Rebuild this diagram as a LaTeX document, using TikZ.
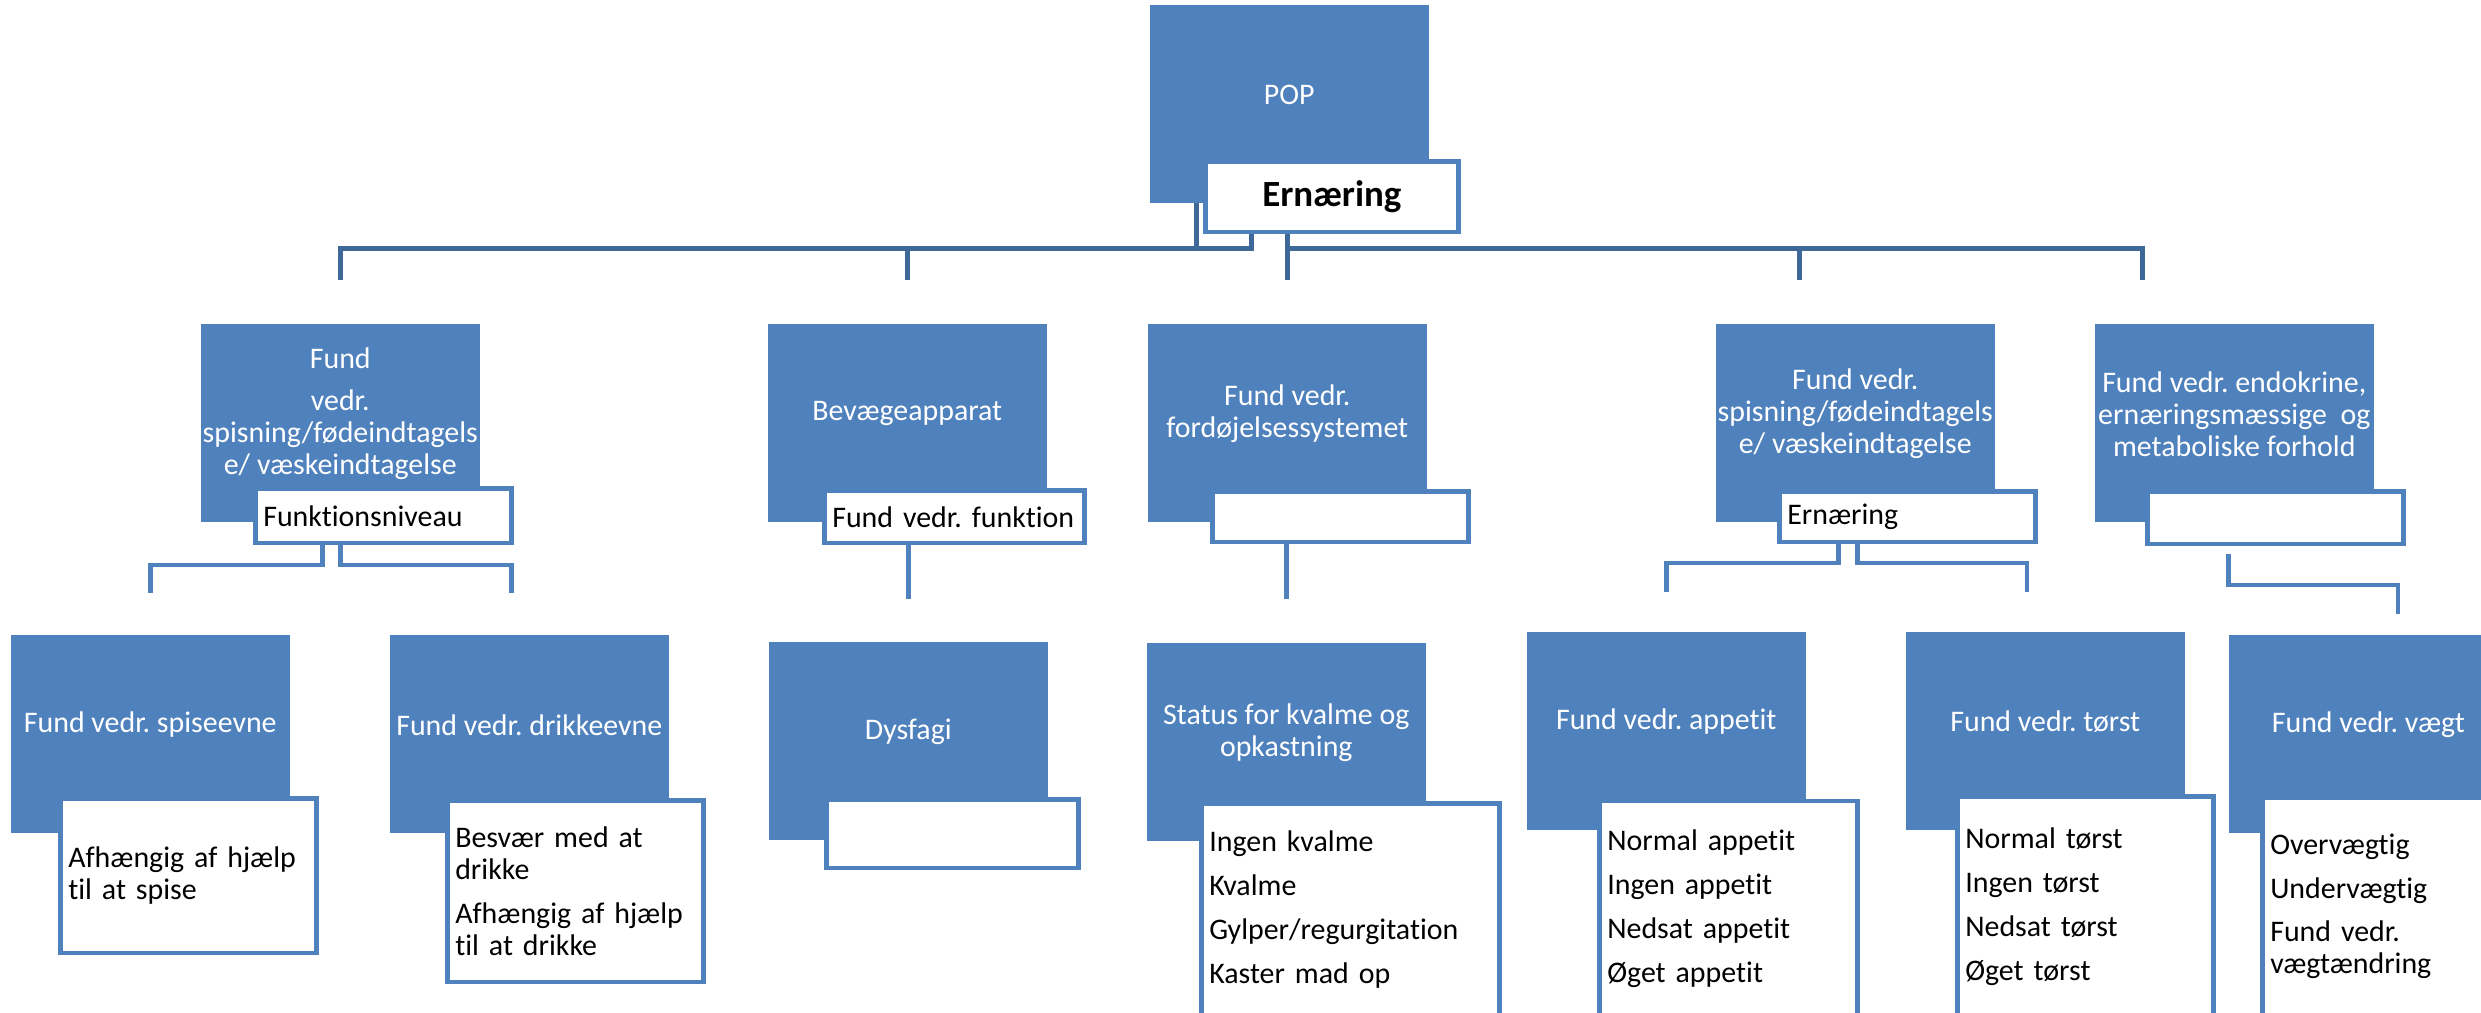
\documentclass[tikz,border=0pt]{standalone}
\usepackage{fontspec}
\setmainfont{Carlito}[Ligatures={NoCommon}]
\frenchspacing
\usetikzlibrary{positioning}
\definecolor{boxblue}{HTML}{4F81BD}
\definecolor{linkblue}{HTML}{3D6897}
\tikzset{
  block/.style={
    fill=boxblue,
    draw=boxblue,
    rectangle,
    anchor=north west,
    minimum height=1.96cm,
    minimum width=2.77cm,
    inner sep=0pt
  },
  blocktext/.style={
    text=white,
    align=center,
    yshift=0.09cm,
    font=\fontsize{8.5}{9.1}\selectfont
  },
  subblock/.style={
    fill=white,
    draw=boxblue,
    line width=0.045cm,
    rectangle,
    anchor=north west,
    inner xsep=0.08cm,
    inner ysep=0pt,
    text width=2.40cm,
    align=left,
    font=\fontsize{8.5}{9.1}\selectfont
  },
  line/.style={draw=linkblue,line width=0.05cm},
  subline/.style={draw=boxblue,line width=0.045cm}
}

\begin{document}
\begin{tikzpicture}[x=0.01cm,y=-0.01cm]

					\useasboundingbox (0,0) rectangle (2481,1013);

					% top
					\node[block, label={[blocktext]center:POP}] (pop) at (1150,5) {};
					\node[subblock, text width=2.37cm, minimum height=0.70cm, align=center,
						font=\fontsize{10.5}{12}\selectfont\bfseries] (pop_sub)
						at ([xshift=0.53cm, yshift=0.43cm]pop.south west) {Ernæring};

					% second row
					\node[block, label={[blocktext]center:{Fund\\[2.8pt]vedr.\\spisning/fødeindtagels\\e/ væskeindtagelse}}] (spisning) at (201,324) {};
					\node[subblock, minimum height=0.54cm] (spisning_sub) at ([xshift=0.52cm, yshift=0.35cm]spisning.south west) {Funktionsniveau};

					\node[block, label={[blocktext]center:Bevægeapparat}] (bevaege) at (768,324) {};
					\node[subblock, text width=2.44cm, minimum height=0.52cm] (bevaege_sub) at ([xshift=0.54cm, yshift=0.33cm]bevaege.south west) {Fund vedr. funktion};

					\node[block, label={[blocktext]center:{Fund vedr.\\fordøjelsessystemet}}] (fordoejelse) at (1148,324) {};
					\node[subblock, minimum height=0.50cm] (fordoejelse_sub) at ([xshift=0.62cm, yshift=0.32cm]fordoejelse.south west) {};

					\node[block, label={[blocktext]center:{Fund vedr.\\spisning/fødeindtagels\\e/ væskeindtagelse}}] (indtagelse) at (1716,324) {};
					\node[subblock, minimum height=0.50cm] (indtagelse_sub) at ([xshift=0.61cm, yshift=0.32cm]indtagelse.south west) {Ernæring};

					\node[block, label={[blocktext]center:{Fund vedr. endokrine,\\ernæringsmæssige\ \ og\\metaboliske forhold}}] (endokrine) at (2095,324) {};
					\node[subblock, minimum height=0.52cm] (endokrine_sub) at ([xshift=0.50cm, yshift=0.32cm]endokrine.south west) {};

					% third row
					\node[block, label={[blocktext]center:Fund vedr. spiseevne}] (spiseevne) at (11,635) {};
					\node[subblock, minimum height=1.54cm] (spiseevne_sub) at ([xshift=0.47cm, yshift=0.36cm]spiseevne.south west) {Afhængig af hjælp\\til at spise};

					\node[block, label={[blocktext]center:Fund vedr. drikkeevne}] (drikkeevne) at (390,635) {};
					\node[subblock, minimum height=1.81cm] (drikkeevne_sub) at ([xshift=0.55cm, yshift=0.34cm]drikkeevne.south west) {Besvær med at\\drikke\\[3.4pt]Afhængig af hjælp\\til at drikke};

					\node[block, label={[blocktext]center:Dysfagi}] (dysfagi) at (769,642) {};
					\node[subblock, text width=2.36cm, minimum height=0.68cm] (dysfagi_sub) at ([xshift=0.55cm, yshift=0.42cm]dysfagi.south west) {};

					\node[block, label={[blocktext]center:{Status for kvalme og\\opkastning}}] (kvalme) at (1147,643) {};
					\node[subblock, text width=2.82cm, minimum height=2.12cm] (kvalme_sub) at ([xshift=0.52cm, yshift=0.39cm]kvalme.south west) {Ingen kvalme\\[3.4pt]Kvalme\\[3.4pt]Gylper/regurgitation\\[3.4pt]Kaster mad op};

					\node[block, label={[blocktext]center:Fund vedr. appetit}] (appetit) at (1527,632) {};
					\node[subblock, text width=2.42cm, minimum height=2.15cm] (appetit_sub) at ([xshift=0.70cm, yshift=0.31cm]appetit.south west) {Normal appetit\\[3.4pt]Ingen appetit\\[3.4pt]Nedsat appetit\\[3.4pt]Øget appetit};

					\node[block, label={[blocktext]center:Fund vedr. tørst}] (toerst) at (1906,632) {};
					\node[subblock, minimum height=2.19cm] (toerst_sub) at ([xshift=0.49cm, yshift=0.35cm]toerst.south west) {Normal tørst\\[3.4pt]Ingen tørst\\[3.4pt]Nedsat tørst\\[3.4pt]Øget tørst};

					\node[block, label={[blocktext]center:Fund vedr. vægt}] (vaegt) at (2229,635) {};
					\node[subblock, minimum height=2.17cm] (vaegt_sub) at ([xshift=0.31cm, yshift=0.37cm]vaegt.south west) {Overvægtig\\[3.4pt]Undervægtig\\[3.4pt]Fund vedr.\\vægtændring};

					% top links
					\coordinate (top_bus) at (0,249);
					\coordinate (drop_indtagelse) at ([xshift=-0.555cm, yshift=0.44cm]indtagelse.north);
					\coordinate (drop_endokrine) at ([xshift=-0.915cm, yshift=0.44cm]endokrine.north);
					\draw[line] ([xshift=-0.805cm]pop_sub.south) |- (spisning.north |- top_bus) -- ([yshift=0.44cm]spisning.north);
					\draw[line] ([xshift=-0.93cm]pop.south) -- ([xshift=-0.93cm]pop.south |- top_bus);
					\draw[line] (bevaege.north |- top_bus) -- ([yshift=0.44cm]bevaege.north);
					\draw[line] (pop_sub.south -| fordoejelse.north) -- ([yshift=0.44cm]fordoejelse.north);
					\draw[line] (fordoejelse.north |- top_bus) -| (drop_endokrine);
					\draw[line] (drop_indtagelse |- top_bus) -- (drop_indtagelse);

					% lower links
					\coordinate (fork_left) at (0,565);
					\coordinate (fork_right) at (0,563);
					\coordinate (fork_vaegt) at (0,585);
					\coordinate (drop_drikkeevne) at ([xshift=-0.18cm, yshift=0.42cm]drikkeevne.north);
					\coordinate (drop_toerst) at ([xshift=-0.185cm, yshift=0.40cm]toerst.north);
					\coordinate (drop_vaegt) at ([xshift=0.295cm, yshift=0.21cm]vaegt.north);
					\draw[subline] ([xshift=-0.61cm]spisning_sub.south) |- (spiseevne.north |- fork_left) -- ([yshift=0.42cm]spiseevne.north);
					\draw[subline] ([xshift=-0.43cm]spisning_sub.south) |- (drop_drikkeevne |- fork_left) -- (drop_drikkeevne);
					\draw[subline] (bevaege_sub.south -| dysfagi.north) -- ([yshift=0.43cm]dysfagi.north);
					\draw[subline] (fordoejelse_sub.south -| kvalme.north) -- ([yshift=0.44cm]kvalme.north);
					\draw[subline] ([xshift=-0.69cm]indtagelse_sub.south) |- (appetit.north |- fork_right) -- ([yshift=0.40cm]appetit.north);
					\draw[subline] ([xshift=-0.50cm]indtagelse_sub.south) |- (drop_toerst |- fork_right) -- (drop_toerst);
					\draw[subline] ([xshift=-0.47cm, yshift=-0.08cm]endokrine_sub.south) |- (drop_vaegt |- fork_vaegt) -- (drop_vaegt);

				\end{tikzpicture}
\end{document}
